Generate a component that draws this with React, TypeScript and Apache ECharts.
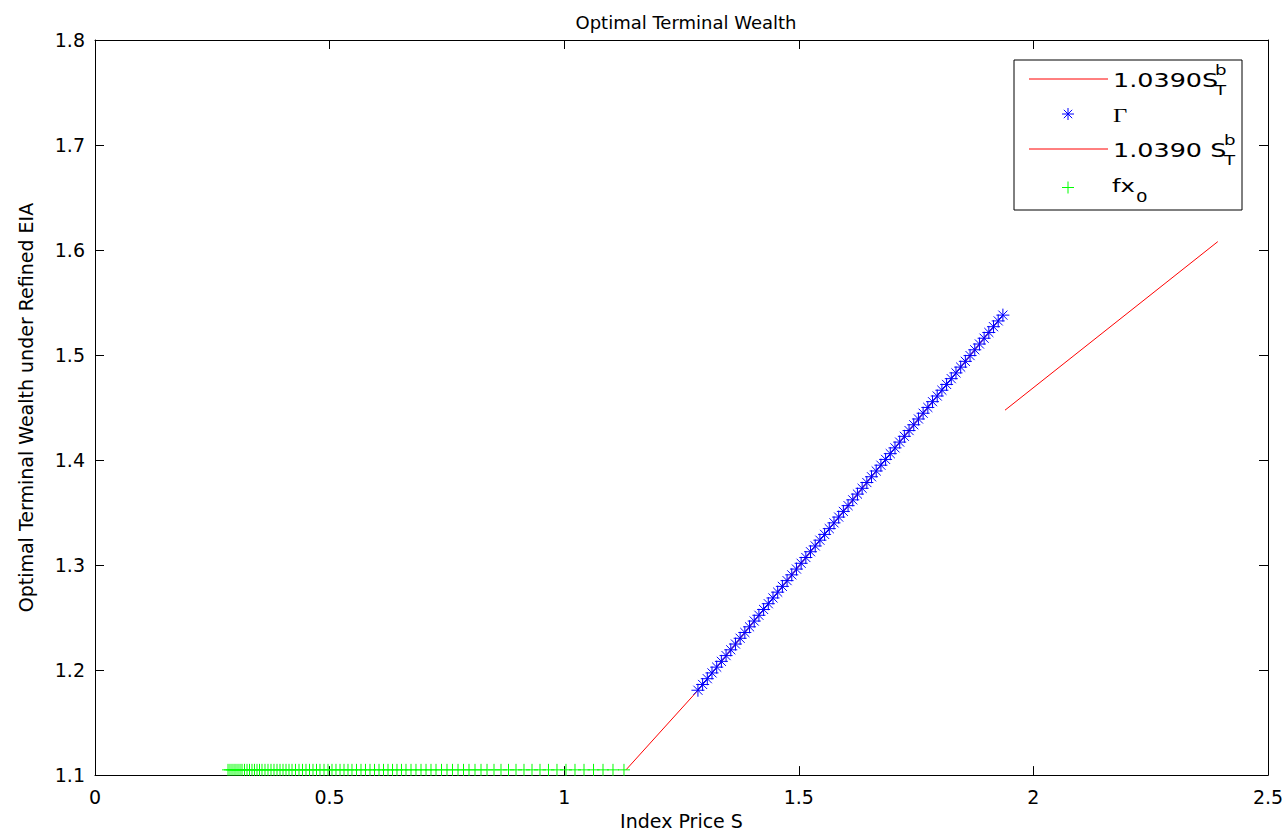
import React, { useEffect, useRef } from "react";
import * as echarts from "echarts";

// ---- data ----
const xTicks = [0, 0.5, 1, 1.5, 2, 2.5];
const yTicks = [1.1, 1.2, 1.3, 1.4, 1.5, 1.6, 1.7, 1.8];

// fx_0 (green "+") : constant level
const fx0Level = 1.105;
const fx0X = [
  0.2835, 0.2877, 0.292, 0.2963, 0.3005, 0.3048, 0.3091, 0.3133,
  0.3186, 0.324, 0.3293, 0.3346, 0.3399, 0.3453, 0.3506, 0.3559,
  0.3623, 0.3687, 0.3751, 0.3815, 0.3879, 0.3943, 0.4007, 0.4071, 0.4135, 0.4199,
  0.4273, 0.4348, 0.4422, 0.4497, 0.4572, 0.4646, 0.4721, 0.4795,
  0.4881, 0.4966, 0.5051, 0.5136, 0.5222, 0.5307, 0.5392, 0.5477,
  0.5573, 0.5669, 0.5765, 0.5861, 0.5957, 0.6053, 0.6149, 0.6245, 0.6341,
  0.6436, 0.6532, 0.6628, 0.6735, 0.6841, 0.6948, 0.7055, 0.7161, 0.7268,
  0.7385, 0.7502, 0.7619, 0.7737, 0.7854, 0.7971, 0.8099, 0.8227, 0.8355,
  0.8504, 0.8653, 0.8813, 0.8973, 0.9143, 0.9314, 0.9484, 0.9665, 0.9846,
  1.0038, 1.023, 1.0422, 1.0625, 1.0827, 1.104, 1.1274,
];

// Gamma (blue "*")
const gammaX = [
  1.285, 1.295, 1.305, 1.315, 1.325, 1.335, 1.345, 1.355, 1.365, 1.375,
  1.385, 1.395, 1.405, 1.415, 1.425, 1.435, 1.445, 1.455, 1.465, 1.475,
  1.485, 1.495, 1.505, 1.515, 1.525, 1.535, 1.545, 1.555, 1.565, 1.575,
  1.585, 1.595, 1.605, 1.615, 1.625, 1.635, 1.645, 1.655, 1.665, 1.675,
  1.685, 1.695, 1.705, 1.715, 1.725, 1.735, 1.745, 1.755, 1.765, 1.775,
  1.785, 1.795, 1.805, 1.815, 1.825, 1.835, 1.845, 1.855, 1.865, 1.875,
  1.885, 1.895, 1.905, 1.915, 1.925, 1.935,
];
const gammaY = [
  1.1808, 1.1863, 1.1918, 1.1973, 1.2028, 1.2083, 1.2138, 1.2193, 1.2248, 1.2303,
  1.2358, 1.2412, 1.2467, 1.2522, 1.2577, 1.2632, 1.2687, 1.2742, 1.2797, 1.2852,
  1.2907, 1.2962, 1.3017, 1.3072, 1.3127, 1.3182, 1.3237, 1.3292, 1.3347, 1.3402,
  1.3457, 1.3511, 1.3566, 1.3621, 1.3676, 1.3731, 1.3786, 1.3841, 1.3896, 1.3951,
  1.4006, 1.4061, 1.4116, 1.4171, 1.4226, 1.4281, 1.4336, 1.4391, 1.4446, 1.4501,
  1.4556, 1.461, 1.4665, 1.472, 1.4775, 1.483, 1.4885, 1.494, 1.4995, 1.505,
  1.5105, 1.516, 1.5215, 1.527, 1.5325, 1.538,
];

// first red line 1.0390 S_T^b
const redAX = [1.1317, 1.2844, 1.935];
const redAY = [1.105, 1.1804, 1.538];
// second red line 1.0390 S_T^b
const redBX = [1.9395, 2.393];
const redBY = [1.4475, 1.608];

const FONT = "'DejaVu Sans', 'Liberation Sans', Arial, sans-serif";
const SERIF = "'Liberation Serif', 'Times New Roman', serif";

const starPath =
  "path://M-6,0L6,0M0,-6L0,6M-4.2,-4.2L4.2,4.2M-4.2,4.2L4.2,-4.2";
const plusPath = "path://M-6,0L6,0M0,-6L0,6";

export default function App() {
  const ref = useRef<HTMLDivElement>(null);

  useEffect(() => {
    if (!ref.current) return;
    const chart = echarts.init(ref.current, null, { renderer: "svg" });

    const axisCommon = {
      type: "value" as const,
      axisLine: { show: true, onZero: false, lineStyle: { color: "#000", width: 1 } },
      axisTick: { show: true, inside: true, length: 9, lineStyle: { color: "#000" } },
      splitLine: { show: false },
    };

    // legend drawn as graphics (MATLAB style, with sub/superscripts)
    const lx = 1014, ly = 60, lw = 228, lh = 150;
    const rows = [79, 114, 149, 187.5];
    const textX = 1113;
    const big = { fontFamily: FONT, fontSize: 19, fill: "#000", verticalAlign: "middle" };
    const mid = { fontFamily: FONT, fontSize: 18, fill: "#000", verticalAlign: "middle" };
    const small = { fontFamily: FONT, fontSize: 14, fill: "#000", verticalAlign: "middle" };
    const mx = 1068;
    const s = 6, d = 4.2;
    const seg = (x1: number, y1: number, x2: number, y2: number, c: string) => ({
      type: "line",
      shape: { x1, y1, x2, y2 },
      style: { stroke: c, lineWidth: 1 },
      z: 101,
    });
    const txt = (x: number, y: number, text: string, st: any, sx: number) => ({
      type: "text",
      x,
      y,
      scaleX: sx,
      style: { ...st, text },
      z: 101,
    });

    const graphic: any[] = [
      {
        type: "rect",
        shape: { x: lx, y: ly, width: lw, height: lh },
        style: { fill: "#fff", stroke: "#000", lineWidth: 1 },
        z: 100,
      },
      // row 1
      seg(1029, rows[0], 1108, rows[0], "#ff0000"),
      txt(textX, 80.5, "1.0390S", big, 1.34),
      txt(1215, 70, "b", small, 1.3),
      txt(1215, 90, "T", small, 1.3),
      // row 2
      seg(mx - s, rows[1], mx + s, rows[1], "#0000ff"),
      seg(mx, rows[1] - s, mx, rows[1] + s, "#0000ff"),
      seg(mx - d, rows[1] - d, mx + d, rows[1] + d, "#0000ff"),
      seg(mx - d, rows[1] + d, mx + d, rows[1] - d, "#0000ff"),
      { type: "text", x: 1113, y: 115.5, scaleX: 1.3, style: { fontFamily: SERIF, fontSize: 19, fill: "#000", verticalAlign: "middle", text: "Γ" }, z: 101 },
      // row 3
      seg(1029, rows[2], 1108, rows[2], "#ff0000"),
      txt(textX, 150.5, "1.0390 S", big, 1.34),
      txt(1224, 140, "b", small, 1.3),
      txt(1224, 160, "T", small, 1.3),
      // row 4
      seg(mx - s, rows[3], mx + s, rows[3], "#00ff00"),
      seg(mx, rows[3] - s, mx, rows[3] + s, "#00ff00"),
      txt(1112, 185.5, "fx", mid, 1.35),
      txt(1136, 197, "0", small, 1.3),
    ];

    const option: any = {
      animation: false,
      backgroundColor: "#fff",
      title: {
        text: "Optimal Terminal Wealth",
        left: 681,
        textAlign: "center",
        top: 8,
        textStyle: { fontFamily: FONT, fontSize: 18, fontWeight: "normal", color: "#000" },
      },
      legend: { show: false },
      grid: { left: 95, right: 20, top: 40, bottom: 57, containLabel: false },
      xAxis: [
        {
          ...axisCommon,
          position: "bottom",
          min: xTicks[0],
          max: xTicks[xTicks.length - 1],
          interval: 0.5,
          name: "Index Price S",
          nameLocation: "middle",
          nameGap: 34,
          nameTextStyle: { fontFamily: FONT, fontSize: 19, color: "#000" },
          axisLabel: {
            fontFamily: FONT,
            fontSize: 19,
            color: "#000",
            margin: 12,
            formatter: (v: number) => String(parseFloat(v.toFixed(2))),
          },
        },
        {
          ...axisCommon,
          position: "top",
          min: xTicks[0],
          max: xTicks[xTicks.length - 1],
          interval: 0.5,
          axisLabel: { show: false },
        },
      ],
      yAxis: [
        {
          ...axisCommon,
          position: "left",
          min: yTicks[0],
          max: yTicks[yTicks.length - 1],
          interval: 0.1,
          name: "Optimal Terminal Wealth under Refined EIA",
          nameLocation: "middle",
          nameGap: 60,
          nameRotate: 90,
          nameTextStyle: { fontFamily: FONT, fontSize: 19, color: "#000" },
          axisLabel: {
            fontFamily: FONT,
            fontSize: 19,
            color: "#000",
            margin: 10,
            formatter: (v: number) => v.toFixed(1),
          },
        },
        {
          ...axisCommon,
          position: "right",
          min: yTicks[0],
          max: yTicks[yTicks.length - 1],
          interval: 0.1,
          axisLabel: { show: false },
        },
      ],
      series: [
        {
          name: "1.0390S_T^b",
          type: "line",
          data: redAX.map((x, i) => [x, redAY[i]]),
          showSymbol: false,
          symbol: "none",
          lineStyle: { color: "#ff0000", width: 1 },
          z: 2,
        },
        {
          name: "Γ",
          type: "scatter",
          data: gammaX.map((x, i) => [x, gammaY[i]]),
          symbol: starPath,
          symbolSize: 13,
          itemStyle: { color: "rgba(0,0,0,0)", borderColor: "#0000ff", borderWidth: 1, opacity: 1 },
          z: 3,
        },
        {
          name: "1.0390 S_T^b",
          type: "line",
          data: redBX.map((x, i) => [x, redBY[i]]),
          showSymbol: false,
          symbol: "none",
          lineStyle: { color: "#ff0000", width: 1 },
          z: 2,
        },
        {
          name: "fx_0",
          type: "scatter",
          data: fx0X.map((x) => [x, fx0Level]),
          symbol: plusPath,
          symbolSize: 12,
          itemStyle: { color: "rgba(0,0,0,0)", borderColor: "#00ff00", borderWidth: 1, opacity: 1 },
          z: 4,
        },
      ],
      graphic,
    };

    chart.setOption(option);
    return () => chart.dispose();
  }, []);

  return (
    <div
      ref={ref}
      style={{ position: "fixed", left: 0, top: 0, width: 1288, height: 835, background: "#fff" }}
    />
  );
}
